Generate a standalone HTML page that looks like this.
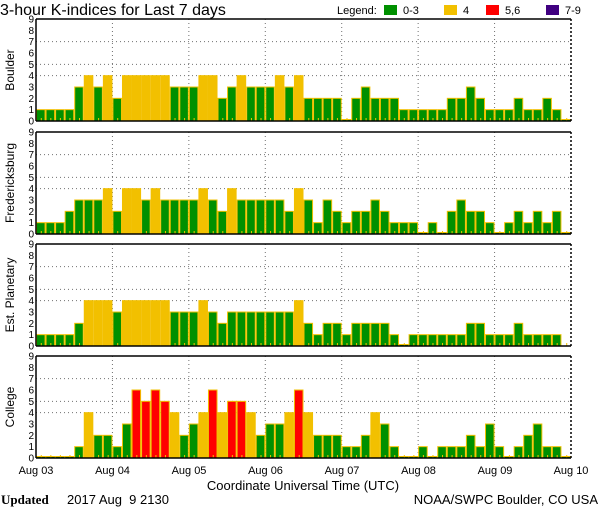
<!DOCTYPE html>
<html><head><meta charset="utf-8"><style>
html,body{margin:0;padding:0;background:#fff;}
body{width:600px;height:510px;overflow:hidden;}
svg text{font-family:"Liberation Sans",sans-serif;fill:#000;}
</style></head><body>
<svg id="s" width="600" height="510" xmlns="http://www.w3.org/2000/svg">
<text x="0" y="15" font-size="16">3-hour K-indices for Last 7 days</text>
<text x="337" y="14" font-size="11">Legend:</text>
<rect x="384" y="5" width="13" height="10" fill="#009000"/><text x="403" y="14" font-size="11">0-3</text>
<rect x="444" y="5" width="13" height="10" fill="#f2c000"/><text x="463" y="14" font-size="11">4</text>
<rect x="486" y="5" width="13" height="10" fill="#ff0000"/><text x="505" y="14" font-size="11">5,6</text>
<rect x="546" y="5" width="13" height="10" fill="#400080"/><text x="565" y="14" font-size="11">7-9</text>
<text transform="translate(14,70) rotate(-90)" text-anchor="middle" font-size="12">Boulder</text>
<text transform="translate(14,183) rotate(-90)" text-anchor="middle" font-size="12">Fredericksburg</text>
<text transform="translate(14,295) rotate(-90)" text-anchor="middle" font-size="12">Est. Planetary</text>
<text transform="translate(14,407) rotate(-90)" text-anchor="middle" font-size="12">College</text>
<text x="36" y="474" font-size="11" text-anchor="middle">Aug 03</text>
<text x="112.5" y="474" font-size="11" text-anchor="middle">Aug 04</text>
<text x="189" y="474" font-size="11" text-anchor="middle">Aug 05</text>
<text x="265.5" y="474" font-size="11" text-anchor="middle">Aug 06</text>
<text x="342" y="474" font-size="11" text-anchor="middle">Aug 07</text>
<text x="418.5" y="474" font-size="11" text-anchor="middle">Aug 08</text>
<text x="495" y="474" font-size="11" text-anchor="middle">Aug 09</text>
<text x="571" y="474" font-size="11" text-anchor="middle">Aug 10</text>
<text x="303" y="490" font-size="13" text-anchor="middle">Coordinate Universal Time (UTC)</text>
<text x="1" y="504" font-size="13" font-weight="bold" style="font-family:'Liberation Serif',serif">Updated</text>
<text x="67" y="504" font-size="13" xml:space="preserve" style="white-space:pre">2017 Aug  9 2130</text>
<text x="598" y="504" font-size="13" text-anchor="end">NOAA/SWPC Boulder, CO USA</text>
<g id="p"></g>
</svg>
<script>
var data=[
[1,1,1,1,3,4,3,4, 2,4,4,4,4,4,3,3, 3,4,4,2,3,4,3,3, 3,4,3,4,2,2,2,2, 0,2,3,2,2,2,1,1, 1,1,1,2,2,3,2,1, 1,1,2,1,1,2,1,0],
[1,1,1,2,3,3,3,4, 2,4,4,3,4,3,3,3, 3,4,3,2,4,3,3,3, 3,3,2,4,3,1,3,2, 1,2,2,3,2,1,1,1, 0,1,0,2,3,2,2,1, 0,1,2,1,2,1,2,0],
[1,1,1,1,2,4,4,4, 3,4,4,4,4,4,3,3, 3,4,3,2,3,3,3,3, 3,3,3,4,2,1,2,2, 1,2,2,2,2,1,0,1, 1,1,1,1,1,2,2,1, 1,1,2,1,1,1,1,-1],
[0,0,0,0,1,4,2,2, 1,3,6,5,6,5,4,2, 3,4,6,4,5,5,4,2, 3,3,4,6,4,2,2,2, 1,1,2,4,3,1,0,0, 1,0,1,1,1,2,1,3, 1,0,1,2,3,1,1,0]];
var tops=[19,132,244,356],H=102,X0=36,X1=571,W=(X1-X0)/56,U=H/9;
var h='';
for(var p=0;p<4;p++){
 var t=tops[p],b=t+H;
 [4,5,7].forEach(function(k){h+='<line x1="'+X0+'" x2="'+X1+'" y1="'+(b-k*U)+'" y2="'+(b-k*U)+'" stroke="#707070" stroke-dasharray="1,3"/>';});
 for(var d=1;d<7;d++){var x=X0+d*8*W;h+='<line x1="'+x+'" x2="'+x+'" y1="'+t+'" y2="'+b+'" stroke="#707070" stroke-dasharray="1,3"/>';}
 for(var i=0;i<56;i++){
  var v=data[p][i],x=X0+i*W;
  if(v>=0){
   var c=v<=3?'#009000':(v==4?'#f2c000':(v<=6?'#ff0000':'#400080'));
   var hh=Math.max(v*U,1.5);
   h+='<rect x="'+(x+0.5)+'" y="'+(b-hh)+'" width="'+(W-1)+'" height="'+hh+'" fill="'+c+'" stroke="#f2c000" stroke-width="1"/>';
  }
  h+='<rect x="'+(x+W*0.5)+'" y="'+(b-3)+'" width="1" height="3" fill="#f2c000"/>';
 }
 h+='<line x1="'+X0+'" x2="'+X1+'" y1="'+t+'" y2="'+t+'" stroke="#000" stroke-width="1.5"/>';
 h+='<line x1="'+X0+'" x2="'+X1+'" y1="'+b+'" y2="'+b+'" stroke="#000" stroke-width="1.5"/>';
 h+='<line x1="'+X0+'" x2="'+X0+'" y1="'+t+'" y2="'+b+'" stroke="#000" stroke-width="1.5"/>';
 h+='<line x1="'+X1+'" x2="'+X1+'" y1="'+t+'" y2="'+b+'" stroke="#000" stroke-width="1.5" stroke-dasharray="2,2"/>';
 for(var k=0;k<=9;k++){h+='<text x="34" y="'+(b-k*U+3.5)+'" font-size="10" text-anchor="end">'+k+'</text>';}
}
document.getElementById('p').innerHTML=h;
</script>
</body></html>
